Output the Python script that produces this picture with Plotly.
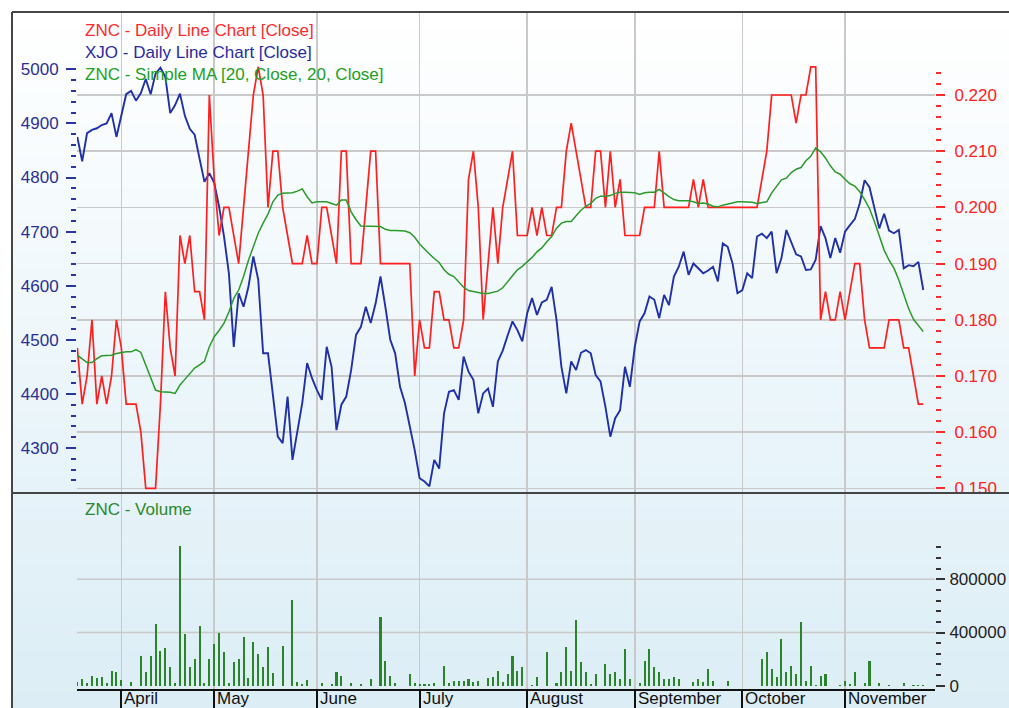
import plotly.graph_objects as go

# ---------------- data ----------------
months = ["April", "May", "June", "July", "August", "September", "October", "November"]
month_start = [9, 28, 49, 70, 92, 114, 136, 157]   # trading-day index of first day of month

znc_close = [
    0.175, 0.165, 0.170, 0.180, 0.165, 0.170, 0.165, 0.170, 0.180, 0.175,
    0.165, 0.165, 0.165, 0.160, 0.150, 0.150, 0.150, 0.165, 0.185, 0.175,
    0.170, 0.195, 0.190, 0.195, 0.185, 0.185, 0.180, 0.220, 0.205, 0.195,
    0.200, 0.200, 0.195, 0.190, 0.200, 0.210, 0.220, 0.225, 0.220, 0.200,
    0.210, 0.210, 0.200, 0.195, 0.190, 0.190, 0.190, 0.195, 0.190, 0.190,
    0.200, 0.200, 0.195, 0.190, 0.210, 0.210, 0.190, 0.190, 0.190, 0.200,
    0.210, 0.210, 0.190, 0.190, 0.190, 0.190, 0.190, 0.190, 0.190, 0.170,
    0.180, 0.175, 0.175, 0.185, 0.185, 0.180, 0.180, 0.175, 0.175, 0.180,
    0.205, 0.210, 0.200, 0.180, 0.190, 0.200, 0.190, 0.200, 0.205, 0.210,
    0.195, 0.195, 0.195, 0.200, 0.195, 0.200, 0.195, 0.195, 0.200, 0.200,
    0.210, 0.215, 0.210, 0.205, 0.200, 0.200, 0.210, 0.210, 0.200, 0.210,
    0.200, 0.205, 0.195, 0.195, 0.195, 0.195, 0.200, 0.200, 0.200, 0.210,
    0.200, 0.200, 0.200, 0.200, 0.200, 0.200, 0.205, 0.200, 0.205, 0.200,
    0.200, 0.200, 0.200, 0.200, 0.200, 0.200, 0.200, 0.200, 0.200, 0.200,
    0.205, 0.210, 0.220, 0.220, 0.220, 0.220, 0.220, 0.215, 0.220, 0.220,
    0.225, 0.225, 0.180, 0.185, 0.180, 0.180, 0.185, 0.180, 0.185, 0.190,
    0.190, 0.180, 0.175, 0.175, 0.175, 0.175, 0.180, 0.180, 0.180, 0.175,
    0.175, 0.170, 0.165, 0.165,
]

xjo_close = [
    4875, 4830, 4882, 4888, 4891, 4897, 4900, 4919, 4875, 4912,
    4954, 4960, 4942, 4956, 4982, 4954, 4992, 5003, 4986, 4919,
    4934, 4955, 4914, 4890, 4879, 4835, 4792, 4808, 4790, 4746,
    4691, 4623, 4487, 4586, 4561, 4598, 4654, 4611, 4475, 4475,
    4401, 4321, 4309, 4395, 4278, 4333, 4383, 4457, 4429, 4407,
    4389, 4487, 4450, 4333, 4380, 4395, 4444, 4509, 4524, 4561,
    4531, 4567, 4617, 4561, 4500, 4475, 4413, 4383, 4339, 4296,
    4244, 4238, 4229, 4278, 4262, 4364, 4404, 4407, 4389, 4469,
    4441, 4426, 4364, 4401, 4410, 4376, 4460, 4480, 4508, 4534,
    4518, 4497, 4549, 4577, 4546, 4569, 4574, 4598, 4537, 4450,
    4401, 4460, 4444, 4476, 4481, 4475, 4435, 4423, 4376, 4321,
    4355, 4370, 4450, 4413, 4487, 4534, 4549, 4580, 4574, 4540,
    4583, 4564, 4617, 4635, 4663, 4620, 4641, 4632, 4623, 4628,
    4635, 4608, 4678, 4672, 4641, 4586, 4592, 4623, 4614, 4691,
    4696, 4688, 4700, 4623, 4651, 4703, 4681, 4658, 4654, 4629,
    4630, 4648, 4710, 4688, 4651, 4688, 4661, 4700, 4712, 4723,
    4752, 4795, 4782, 4746, 4706, 4733, 4702, 4697, 4703, 4632,
    4638, 4636, 4644, 4592,
]

znc_ma20 = [
    0.1737, 0.1730, 0.1724, 0.1724, 0.1731, 0.1736, 0.1737, 0.1737, 0.1740, 0.1742,
    0.1743, 0.1743, 0.1747, 0.1742, 0.1720, 0.1696, 0.1675, 0.1672, 0.1672, 0.1671,
    0.1669, 0.1684, 0.1694, 0.1704, 0.1714, 0.1720, 0.1726, 0.1752, 0.1770, 0.1781,
    0.1794, 0.1814, 0.1838, 0.1853, 0.1877, 0.1906, 0.1930, 0.1954, 0.1972, 0.1988,
    0.2010, 0.2022, 0.2025, 0.2025, 0.2026, 0.2029, 0.2033, 0.2019, 0.2008, 0.2010,
    0.2010, 0.2010, 0.2007, 0.2004, 0.2013, 0.2013, 0.1992, 0.1978, 0.1967, 0.1967,
    0.1967, 0.1966, 0.1966, 0.1961, 0.1959, 0.1959, 0.1959, 0.1958, 0.1955, 0.1947,
    0.1935, 0.1925, 0.1917, 0.1909, 0.1902, 0.1889, 0.1881, 0.1877, 0.1868, 0.1858,
    0.1852, 0.1850, 0.1848, 0.1847, 0.1847, 0.1849, 0.1851, 0.1857, 0.1868, 0.1878,
    0.1889, 0.1895, 0.1903, 0.1911, 0.1921, 0.1928, 0.1939, 0.1948, 0.1963, 0.1972,
    0.1975, 0.1975, 0.1985, 0.1995, 0.2002, 0.2007, 0.2016, 0.2020, 0.2020, 0.2021,
    0.2025, 0.2027, 0.2027, 0.2027, 0.2026, 0.2023, 0.2026, 0.2027, 0.2027, 0.2032,
    0.2025, 0.2019, 0.2014, 0.2012, 0.2012, 0.2012, 0.2010, 0.2007, 0.2008, 0.2006,
    0.2002, 0.2001, 0.2004, 0.2006, 0.2009, 0.2010, 0.2010, 0.2010, 0.2009, 0.2007,
    0.2008, 0.2010, 0.2026, 0.2037, 0.2049, 0.2052, 0.2062, 0.2068, 0.2071, 0.2083,
    0.2091, 0.2106, 0.2099, 0.2088, 0.2074, 0.2063, 0.2059, 0.2050, 0.2042, 0.2038,
    0.2028, 0.2014, 0.1998, 0.1975, 0.1951, 0.1924, 0.1906, 0.1892, 0.1871, 0.1847,
    0.1820, 0.1801, 0.1791, 0.1779,
]

znc_volume = [
    30000, 50000, 17500, 75000, 55000, 62500, 17500, 113000, 100000, 43000,
    0, 30000, 0, 225000, 100000, 225000, 461000, 263000, 286000, 138000,
    17500, 1047500, 386000, 138000, 200000, 448500, 17500, 200000, 313000, 398000,
    250000, 17500, 175000, 200000, 363000, 55000, 326000, 238000, 138000, 288000,
    93000, 0, 300000, 0, 644000, 30000, 12500, 43000, 0, 0,
    17500, 0, 12500, 100000, 75000, 0, 17500, 0, 12500, 0,
    50000, 0, 519000, 188000, 75000, 17500, 0, 0, 88000, 17500,
    12500, 12500, 12500, 17500, 0, 150000, 17500, 37500, 37500, 37500,
    50000, 30000, 37500, 0, 55000, 62500, 113000, 30000, 88000, 225000,
    113000, 138000, 0, 7500, 62500, 0, 250000, 0, 17500, 100000,
    288000, 113000, 494000, 175000, 100000, 12500, 88000, 0, 163000, 88000,
    100000, 50000, 276000, 50000, 0, 17500, 188000, 276000, 138000, 100000,
    50000, 50000, 62500, 50000, 0, 0, 30000, 50000, 30000, 125000,
    37500, 0, 0, 37500, 0, 0, 0, 0, 0, 0,
    200000, 250000, 125000, 62500, 351000, 100000, 150000, 88000, 481000, 37500,
    150000, 5000, 75000, 88000, 0, 0, 5000, 37500, 12500, 100000,
    0, 17500, 188000, 0, 17500, 0, 5000, 0, 0, 17500,
    0, 5000, 5000, 5000,
]

xjo_ticks = [4300, 4400, 4500, 4600, 4700, 4800, 4900, 5000]
znc_ticks = [0.150, 0.160, 0.170, 0.180, 0.190, 0.200, 0.210, 0.220]
vol_ticks = [0, 400000, 800000]

day = list(range(len(znc_close)))

# ---------------- geometry helpers (pixel layout of the 1009x708 page) ----------------
W, H = 1009, 708
X0_PX, DX_PX = 77.3, 4.89          # pixel of day 0, pixels per trading day
PLOT_L, PLOT_R = 77, 935
TOP_T, TOP_B = 12, 492
BOT_T, BOT_B = 494, 689


def fx(px):
    return px / W


def fy(py):
    return 1 - py / H


def day_at(px):
    return (px - X0_PX) / DX_PX


def xjo_at(py):          # left axis: 5000 at y=69.3, 54.1 px per 100
    return 5000 - (py - 69.3) / 54.1 * 100


def znc_at(py):          # right axis: 0.220 at y=95, 56.2 px per 0.01
    return 0.220 - (py - 95) / 56.2 * 0.01


def vol_at(py):          # volume axis: 0 at y=685.7, 53.2 px per 400000
    return (685.7 - py) / 53.2 * 400000


x_range = [day_at(PLOT_L), day_at(PLOT_R)]

FONT = "Liberation Sans, Arial, sans-serif"
RED = "#ff1f1f"
BLUE = "#2030a6"
GREEN = "#2a9a2a"
VOLG = "#2a852a"
GRID = "#c9c9c9"

fig = go.Figure()

fig.add_trace(go.Scatter(x=day, y=xjo_close, mode="lines", yaxis="y",
                         line=dict(color=BLUE, width=1.9), hoverinfo="skip"))
fig.add_trace(go.Scatter(x=day, y=znc_close, mode="lines", yaxis="y2",
                         line=dict(color=RED, width=1.7), hoverinfo="skip"))
fig.add_trace(go.Scatter(x=day, y=znc_ma20, mode="lines", yaxis="y2",
                         line=dict(color=GREEN, width=1.5), hoverinfo="skip"))
fig.add_trace(go.Bar(x=day, y=znc_volume, xaxis="x2", yaxis="y3", width=0.42,
                     marker=dict(color=VOLG, line=dict(width=0)), hoverinfo="skip"))

# ---------------- backgrounds (vertical gradients) ----------------
shapes = []


def hexmix(c1, c2, t):
    a = [int(c1[i:i + 2], 16) for i in (1, 3, 5)]
    b = [int(c2[i:i + 2], 16) for i in (1, 3, 5)]
    return "#%02x%02x%02x" % tuple(round(a[k] + (b[k] - a[k]) * t) for k in range(3))


def gradient(y_top, y_bot, c_top, c_bot, n=30):
    step = (y_bot - y_top) / n
    for k in range(n):
        shapes.append(dict(type="rect", xref="paper", yref="paper", layer="below",
                           x0=fx(12), x1=1.0, y0=fy(y_top + k * step),
                           y1=fy(min(y_bot, y_top + (k + 1) * step + 0.6)),
                           line=dict(width=0), fillcolor=hexmix(c_top, c_bot, (k + 0.5) / n)))


gradient(12, 493, "#ffffff", "#e6f3f9")
gradient(493, 708, "#e6f3f9", "#dcedf5")

# volume panel horizontal grid lines (only at 400000 / 800000)
for v in vol_ticks[1:]:
    shapes.append(dict(type="line", xref="x2", yref="y3", layer="below",
                       x0=x_range[0], x1=x_range[1], y0=v, y1=v,
                       line=dict(color=GRID, width=1.6)))

# cover lower half of the clipped "0.150" label, then the frame lines
shapes.append(dict(type="rect", xref="paper", yref="paper", layer="above",
                   x0=fx(937), x1=1.0, y0=fy(493), y1=fy(503),
                   line=dict(width=0), fillcolor="#e6f3f9"))
for (x0, y0, x1, y1) in [(12, 12, W, 12), (12, 12, 12, H), (12, 493, W, 493)]:
    shapes.append(dict(type="line", xref="paper", yref="paper", layer="above",
                       x0=fx(x0), y0=fy(y0), x1=fx(x1), y1=fy(y1),
                       line=dict(color="#454545", width=2)))

# ---------------- texts ----------------
ann = []
for txt, py, col in [("ZNC - Daily Line Chart [Close]", 31, "#ff2a2a"),
                     ("XJO - Daily Line Chart [Close]", 52.5, "#2a2aa0"),
                     ("ZNC - Simple MA [20, Close, 20, Close]", 74.5, "#22a022"),
                     ("ZNC - Volume", 509, "#2a8a2a")]:
    ann.append(dict(text=txt, x=fx(83), y=fy(py), xref="paper", yref="paper",
                    xanchor="left", yanchor="middle", showarrow=False,
                    font=dict(family=FONT, size=17, color=col)))
for m, d in zip(months, month_start):
    ann.append(dict(text=m, x=d, xref="x2", y=fy(698), yref="paper",
                    xanchor="left", yanchor="middle", xshift=1, showarrow=False,
                    font=dict(family=FONT, size=17, color="#111111")))


def minor_vals(lo, hi, step, majors):
    out, k = [], 0
    while lo + k * step <= hi + 1e-9:
        v = round(lo + k * step, 6)
        if all(abs(v - m) > step / 4 for m in majors):
            out.append(v)
        k += 1
    return out


fig.update_layout(
    template="none",
    width=W, height=H,
    margin=dict(l=0, r=0, t=0, b=0, pad=0),
    paper_bgcolor="white", plot_bgcolor="rgba(0,0,0,0)",
    showlegend=False, bargap=0,
    font=dict(family=FONT, size=17),
    shapes=shapes, annotations=ann,
    xaxis=dict(domain=[fx(PLOT_L), fx(PLOT_R)], range=x_range, anchor="y",
               tickmode="array", tickvals=month_start, showticklabels=False,
               ticks="", showgrid=True, gridcolor=GRID, gridwidth=1.6,
               zeroline=False, showline=False, automargin=False),
    yaxis=dict(domain=[fy(TOP_B), fy(TOP_T)], range=[xjo_at(TOP_B), xjo_at(TOP_T)],
               side="left", anchor="x", tickmode="array", tickvals=xjo_ticks,
               ticktext=[str(v) for v in xjo_ticks], ticks="outside", ticklen=10,
               tickwidth=2, tickcolor="#2a36a0", ticklabelstandoff=4,
               tickfont=dict(family=FONT, size=17, color="#2a2f96"),
               minor=dict(tickmode="array", tickvals=minor_vals(4240, 4980, 20, xjo_ticks),
                          ticks="outside", ticklen=5, tickwidth=2, tickcolor="#2a36a0",
                          showgrid=False),
               showgrid=False, zeroline=False, showline=False, automargin=False),
    yaxis2=dict(overlaying="y", side="right", anchor="x",
                range=[znc_at(TOP_B), znc_at(TOP_T)], tickmode="array",
                tickvals=znc_ticks, ticktext=["%.3f" % v for v in znc_ticks],
                ticks="outside", ticklen=9, tickwidth=2, tickcolor="#ff2a2a",
                ticklabelstandoff=6,
                tickfont=dict(family=FONT, size=17, color="#ff2020"),
                minor=dict(tickmode="array", tickvals=minor_vals(0.150, 0.224, 0.002, znc_ticks),
                           ticks="outside", ticklen=5, tickwidth=2, tickcolor="#ff2a2a",
                           showgrid=False),
                showgrid=True, gridcolor=GRID, gridwidth=1.6,
                zeroline=False, showline=False, automargin=False),
    xaxis2=dict(domain=[fx(PLOT_L), fx(PLOT_R)], range=x_range, anchor="y3",
                tickmode="array", tickvals=month_start, showticklabels=False,
                ticks="outside", ticklen=22, tickwidth=2, tickcolor="#111111",
                showgrid=True, gridcolor=GRID, gridwidth=1.6,
                showline=True, linecolor="#111111", linewidth=2,
                zeroline=False, automargin=False),
    yaxis3=dict(domain=[fy(BOT_B), fy(BOT_T)], anchor="x2", side="right",
                range=[vol_at(BOT_B), vol_at(BOT_T)], tickmode="array",
                tickvals=vol_ticks, ticktext=[str(v) for v in vol_ticks],
                ticks="outside", ticklen=9, tickwidth=2, tickcolor="#333333",
                ticklabelstandoff=1,
                tickfont=dict(family=FONT, size=17, color="#222222"),
                minor=dict(tickmode="array", tickvals=minor_vals(80000, 1040000, 80000, vol_ticks),
                           ticks="outside", ticklen=5, tickwidth=2, tickcolor="#333333",
                           showgrid=False),
                showgrid=False, zeroline=False, showline=False, automargin=False),
)

fig.write_html(
    "out.html",
    config={"displayModeBar": False, "staticPlot": True},
    post_script=("document.body.style.margin='0';"
                 "document.body.style.overflow='hidden';"
                 "document.documentElement.style.overflow='hidden';"),
)
